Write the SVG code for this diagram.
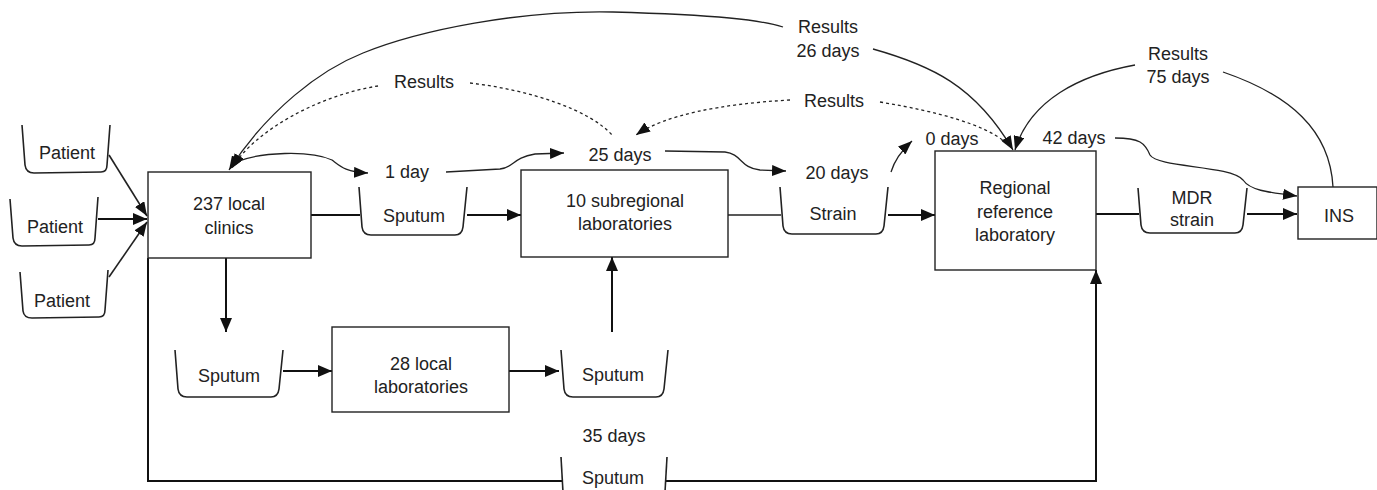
<svg xmlns="http://www.w3.org/2000/svg" width="1377" height="490" viewBox="0 0 1377 490">
<style>
text{font-family:"Liberation Sans",Arial,sans-serif;font-size:18px;fill:#222;text-anchor:middle}
.box{fill:#fff;stroke:#222;stroke-width:1.4}
.tape{fill:none;stroke:#222;stroke-width:1.6;stroke-linejoin:round}
.thick{fill:none;stroke:#111;stroke-width:2}
.thin{fill:none;stroke:#222;stroke-width:1.3}
.dot{fill:none;stroke:#222;stroke-width:1.3;stroke-dasharray:3 3}
</style>
<defs>
<marker id="ah" markerUnits="userSpaceOnUse" markerWidth="15" markerHeight="12" refX="14" refY="6" orient="auto" viewBox="0 0 15 12">
<path d="M0,0 L14,6 L0,12 z" fill="#111"/>
</marker>
<marker id="ahs" markerUnits="userSpaceOnUse" markerWidth="15" markerHeight="11" refX="14" refY="5.5" orient="auto" viewBox="0 0 15 11">
<path d="M0,0 L14,5.5 L0,11 z" fill="#111"/>
</marker>
</defs>

<g id="connectors">
<!-- patients to clinics -->
<path class="thin" d="M109,155 L147,216" marker-end="url(#ahs)" style="stroke-width:1.6"/>
<path class="thick" d="M98,219 L147,219" marker-end="url(#ah)"/>
<path class="thin" d="M109,277 L147,222" marker-end="url(#ahs)" style="stroke-width:1.6"/>
<!-- main flow -->
<path class="thick" d="M311,215 L360,215"/>
<path class="thick" d="M467,215 L521,215" marker-end="url(#ah)"/>
<path class="thin" d="M728,215 L781,215"/>
<path class="thick" d="M888,215 L935,215" marker-end="url(#ah)"/>
<path class="thick" d="M1096,214 L1139,214"/>
<path class="thick" d="M1247,214 L1297,214" marker-end="url(#ah)"/>
<!-- lower branch -->
<path class="thick" d="M226,258 L226,332" marker-end="url(#ah)"/>
<path class="thick" d="M283,371 L332,371" marker-end="url(#ah)"/>
<path class="thick" d="M509,371 L559,371" marker-end="url(#ah)"/>
<path class="thick" d="M612,332 L612,257" marker-end="url(#ah)"/>
<!-- bottom loop -->
<path class="thick" d="M148,258 L148,481 L562,481"/>
<path class="thick" d="M666,481 L1096,481 L1096,270" marker-end="url(#ah)"/>
<!-- timeline curves -->
<path class="thin" d="M236,162 C260,152 310,150 332,160 C340,166 345,172 368,173" marker-end="url(#ahs)"/>
<path class="thin" d="M446,172 L500,169 C515,167 512,158 535,154 L564,153" marker-end="url(#ahs)"/>
<path class="thin" d="M665,151 L725,152 C742,154 740,168 760,170 L786,171" marker-end="url(#ahs)"/>
<path class="thin" d="M891,172 C894,162 900,152 912,141" marker-end="url(#ahs)"/>
<path class="thin" d="M1115,138 C1140,138 1145,143 1150,155 C1158,168 1230,165 1243,180 C1250,190 1265,192 1297,196" marker-end="url(#ahs)"/>
<!-- Results 26 days -->
<path class="thin" d="M783,27 C760,20 720,15 613,12 C520,10 420,30 363,53 C320,70 268,110 229,170" marker-end="url(#ahs)"/>
<path class="thin" d="M873,49 C930,65 975,85 1013,150" marker-end="url(#ahs)"/>
<!-- Results 75 days -->
<path class="thin" d="M1135,65 C1080,75 1030,100 1015,150" marker-end="url(#ahs)"/>
<path class="thin" d="M1223,72 C1290,95 1330,130 1333,187"/>
<!-- dotted Results (subregional to clinics) -->
<path class="dot" d="M378,86 C320,95 255,130 232,168" marker-end="url(#ahs)"/>
<path class="dot" d="M470,83 C530,90 590,110 612,135"/>
<!-- dotted Results (regional to subregional) -->
<path class="dot" d="M790,100 C720,104 665,115 636,135" marker-end="url(#ahs)"/>
<path class="dot" d="M880,102 C940,112 985,125 1005,142"/>
</g>

<g id="patient1"><path class="tape" d="M22,125 L25,165 Q26,173 34,173 L101,172 Q107,172 107,165 L110,125"/><text x="67" y="159">Patient</text></g>
<g id="patient2"><path class="tape" d="M10,199 L13,238 Q14,246 22,246 L89,245 Q95,245 95,238 L98,197"/><text x="55" y="233">Patient</text></g>
<g id="patient3"><path class="tape" d="M20,272 L23,311 Q24,318 32,318 L99,317 Q105,317 105,310 L108,270"/><text x="62" y="307">Patient</text></g>

<g id="clinics"><rect class="box" x="148" y="172" width="163" height="86"/><text x="229" y="210">237 local</text><text x="229" y="234">clinics</text></g>
<g id="sputum1"><path class="tape" d="M359,187 L362,227 Q363,235 371,235 L455,235 Q462,235 463,227 L467,187"/><text x="414" y="222">Sputum</text></g>
<g id="subregional"><rect class="box" x="521" y="170" width="207" height="87"/><text x="625" y="207">10 subregional</text><text x="625" y="230">laboratories</text></g>
<g id="strain"><path class="tape" d="M780,187 L783,226 Q784,234 792,234 L876,234 Q883,234 884,226 L888,187"/><text x="833" y="220">Strain</text></g>
<g id="regional"><rect class="box" x="935" y="151" width="161" height="119"/><text x="1015" y="194">Regional</text><text x="1015" y="218">reference</text><text x="1015" y="241">laboratory</text></g>
<g id="mdr"><path class="tape" d="M1138,188 L1141,225 Q1142,233 1150,233 L1235,233 Q1242,233 1243,225 L1247,188"/><text x="1192" y="204">MDR</text><text x="1192" y="226">strain</text></g>
<g id="ins"><rect class="box" x="1298" y="187" width="79" height="52"/><text x="1339" y="222">INS</text></g>

<g id="sputum2"><path class="tape" d="M175,350 L178,389 Q179,397 187,397 L271,397 Q278,397 279,389 L283,350"/><text x="229" y="382">Sputum</text></g>
<g id="locallabs"><rect class="box" x="332" y="327" width="177" height="85"/><text x="421" y="370">28 local</text><text x="421" y="393">laboratories</text></g>
<g id="sputum3"><path class="tape" d="M561,350 L564,389 Q565,397 573,397 L656,397 Q663,397 664,389 L668,350"/><text x="613" y="381">Sputum</text></g>
<g id="sputum4"><path class="tape" d="M561,457 L563,492"/><path class="tape" d="M667,457 L665,492"/><text x="613" y="484">Sputum</text></g>

<g id="labels">
<text x="407" y="178">1 day</text>
<text x="620" y="161">25 days</text>
<text x="837" y="179">20 days</text>
<text x="952" y="145">0 days</text>
<text x="1074" y="144">42 days</text>
<text x="614" y="442">35 days</text>
<text x="424" y="88">Results</text>
<text x="834" y="107">Results</text>
<text x="828" y="33">Results</text>
<text x="828" y="57">26 days</text>
<text x="1178" y="60">Results</text>
<text x="1178" y="83">75 days</text>
</g>
</svg>
